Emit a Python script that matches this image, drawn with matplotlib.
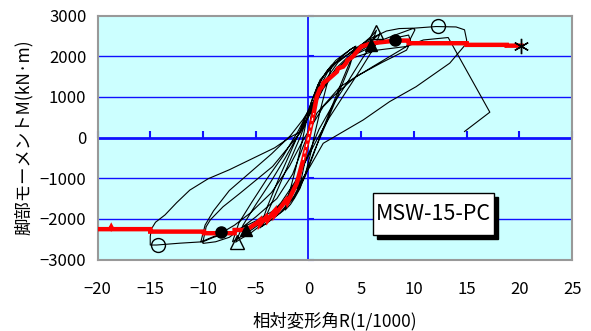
import matplotlib
matplotlib.use("Agg")
import matplotlib.pyplot as plt
from matplotlib.patches import Rectangle

plt.rcParams['font.family'] = ['Noto Sans CJK JP', 'DejaVu Sans']

# Axis ranges and ticks
x_ticks = [-20, -15, -10, -5, 0, 5, 10, 15, 20, 25]
y_ticks = [-3000, -2000, -1000, 0, 1000, 2000, 3000]

# Measured hysteresis record: drift angle R (1/1000) and base moment M (kN·m)
loop_R = [0, 0.3, 0.6, 0.9, 1.0, 0.75, 0.4, 0.1, -0.3, -0.7, -1.0, -0.75, -0.4, -0.1, 0.3, 0.7,
          1.3, 1.7, 2.2, 1.8, 1.2, 0.6, 0.2, -0.3, -0.8, -1.3, -1.7, -2.2, -1.8, -1.2, -0.6, -0.2, 0.3, 0.9, 1.8, 2.6,
          3.2, 4.0, 4.4, 4.0, 3.2, 2.2, 1.2, 0.5, -0.3, -1.3, -2.4, -3.5, -4.4,
          -3.8, -2.8, -1.8, -0.8, 0.0, 0.8, 1.8, 3.0, 4.0, 4.5,
          3.9, 2.8, 1.6, 0.6, -0.3, -1.4, -2.7, -4.0, -4.6,
          -3.9, -2.8, -1.6, -0.5, 0.4, 1.1, 2.5, 4.9, 6.1, 6.45,
          6.0, 5.0, 3.8, 2.3, 1.0, 0.0, -0.9, -2.0, -3.2, -4.5, -5.5, -6.5, -6.9,
          -6.2, -5.0, -3.6, -2.2, -0.9, 0.3, 1.3, 2.6, 4.0, 5.3, 6.3, 6.8,
          6.2, 5.0, 3.5, 2.0, 0.8, -0.3, -1.3, -2.6, -4.0, -5.3, -6.5, -7.2,
          -6.6, -5.4, -3.9, -2.4, -1.0, 0.2, 1.3, 2.8, 4.5, 6.0, 7.4, 8.6, 9.9, 10.1,
          9.3, 6.1, 3.0, 0.8, -0.5, -1.5, -3.0, -5.0, -6.5, -7.5, -8.8, -10.0, -10.0,
          -9.7, -9.3, -8.1, -6.5, -3.4, -0.8, 0.4, 1.4, 2.8, 4.5, 6.5, 8.2, 9.5, 9.7,
          9.3, 7.0, 4.5, 2.5, 1.4, -0.5, -1.8, -3.5, -5.5, -7.0, -8.5, -9.8, -10.2,
          -9.8, -9.0, -7.5, -5.5, -3.5, -1.7, -0.5, 0.7, 2.0, 4.0, 6.0, 8.0, 10.0, 12.1, 14.0, 14.8, 15.0,
          15.0, 13.4, 10.2, 7.7, 5.2, 1.4, 0.15, -1.0, -3.0, -5.0, -7.0, -9.0, -10.0, -12.2, -14.4, -15.0, -15.0,
          -14.9, -14.5, -13.6, -12.5, -11.25, -9.5, -7.5, -5.5, -3.2, -1.8, -0.8, 0.45, 1.5, 3.6, 6.5, 9.3, 10.9, 13.25,
          17.2, 14.8]
loop_M = [0, 500, 950, 1250, 1300, 950, 450, 0, -550, -1050, -1300, -900, -400, 50, 600, 1100,
          1450, 1620, 1780, 1350, 750, 100, -400, -900, -1250, -1480, -1640, -1780, -1350, -750, -100, 400, 900, 1300, 1650, 1900,
          2020, 2170, 2230, 1900, 1400, 750, 100, -400, -950, -1450, -1800, -2020, -2180,
          -1800, -1200, -600, 0, 550, 1100, 1600, 1950, 2170, 2250,
          1750, 1050, 300, -300, -900, -1450, -1850, -2100, -2220,
          -1700, -1000, -300, 350, 950, 1420, 1830, 2250, 2520, 2640,
          2300, 1900, 1400, 800, 200, -400, -950, -1450, -1850, -2150, -2350, -2500, -2570,
          -2150, -1650, -1100, -500, 100, 700, 1200, 1700, 2050, 2300, 2450, 2560,
          2200, 1700, 1100, 500, -50, -600, -1100, -1600, -2000, -2250, -2450, -2560,
          -2100, -1600, -1000, -450, 150, 750, 1300, 1850, 2200, 2450, 2620, 2680, 2690, 2650,
          2240, 1745, 1250, 600, -220, -900, -1500, -1950, -2250, -2450, -2560, -2600, -2560,
          -2190, -2020, -1700, -1370, -710, 110, 700, 1200, 1700, 2050, 2300, 2450, 2520, 2350,
          2150, 1850, 1500, 1050, 760, -60, -700, -1350, -1850, -2150, -2380, -2520, -2560,
          -2150, -1800, -1300, -850, -400, 50, 450, 950, 1500, 2000, 2300, 2500, 2690, 2730, 2720, 2650, 2400,
          2320, 1830, 1250, 885, 435, -140, -710, -1200, -1750, -2050, -2300, -2450, -2560, -2595, -2640, -2640, -2430,
          -2250, -2080, -1900, -1600, -1290, -1010, -790, -540, -250, 0, 140, 755, 1300, 1910, 2150, 2240, 2400, 2460,
          625, 150]

# Skeleton (envelope) curve
skel_R = [-20, -18.8, -18.7, -18.6, -15.0, -15.0, -9.9, -9.9, -7.0, -7.0, -5.9,
          -4.9, -4.6, -4.6, -4.0, -3.9, -3.4, -3.2, -3.2, -2.6, -2.1, -2.0, -1.1, -0.5, 0.0,
          0.5, 0.8, 1.1, 1.3, 1.4, 1.8, 2.0, 2.35, 2.7, 2.8, 3.3, 3.6, 3.7, 4.2, 5.0, 6.0, 8.3,
          9.45, 9.5, 15.0, 15.0, 18.8, 18.8, 20.2]
skel_M = [-2250, -2250, -2200, -2250, -2250, -2310, -2310, -2350, -2350, -2270, -2270,
          -2100, -2030, -2130, -1950, -2040, -1860, -1800, -1900, -1700, -1530, -1600, -1120, -550, 0,
          600, 1010, 1200, 1250, 1340, 1420, 1460, 1540, 1620, 1700, 1745, 1840, 1900, 1990, 2235, 2320, 2385,
          2385, 2320, 2320, 2280, 2280, 2260, 2260]

# Characteristic points on the envelope
yield_R, yield_M = [5.9, -5.9], [2280, -2270]
crack_R, crack_M = [6.45, -6.8], [2600, -2555]
peak_R, peak_M = [8.2, -8.3], [2400, -2330]
max_R, max_M = [12.3, -14.3], [2745, -2650]
ult_R, ult_M = [20.2], [2260]

fig = plt.figure(figsize=(5.91, 3.31), dpi=100)
ax = fig.add_axes([0.165, 0.2155, 0.803, 0.7375])
ax.set_facecolor('#CCFFFF')
ax.set_xlim(-20, 25)
ax.set_ylim(-3000, 3000)
ax.set_xticks(x_ticks)
ax.set_yticks(y_ticks)
ax.tick_params(length=0, labelsize=12)
ax.tick_params(axis='x', pad=15)
ax.tick_params(axis='y', pad=8)
for s in ax.spines.values():
    s.set_color('#999999')
    s.set_linewidth(1.5)

for yv in y_ticks[1:-1]:
    if yv != 0:
        ax.axhline(yv, color='#1010FF', lw=1.0, zorder=1)
ax.axhline(0, color='#1010FF', lw=2.0, zorder=1)
ax.axvline(0, color='#1010FF', lw=1.3, zorder=1)
ax.plot(x_ticks, [0] * len(x_ticks), ls='none', marker=2, ms=5, mew=1.5, color='#1010FF', zorder=1, clip_on=False)
ax.plot([0] * len(y_ticks), y_ticks, ls='none', marker=1, ms=4, mew=1.5, color='#1010FF', zorder=1, clip_on=False)

ax.plot(loop_R, loop_M, color='black', lw=0.8, zorder=2)
ax.plot(skel_R, skel_M, color='#FF0000', lw=3.2, zorder=3, solid_joinstyle='miter')
mid = [(r, m) for r, m in zip(skel_R, skel_M) if -900 <= m <= 1000]
ax.plot([p[0] for p in mid], [p[1] for p in mid], color='white', lw=0.8, ls=(0, (3, 3)), zorder=4)

ax.plot(yield_R, yield_M, ls='none', marker='^', ms=8, color='black', zorder=5)
ax.plot(crack_R, crack_M, ls='none', marker='^', ms=10, mfc='none', mec='black', mew=1.0, zorder=5)
ax.plot(peak_R, peak_M, ls='none', marker='o', ms=8, color='black', zorder=5)
ax.plot(max_R, max_M, ls='none', marker='o', ms=10, mfc='none', mec='black', mew=1.0, zorder=5)
ax.plot(ult_R, ult_M, ls='none', marker=(6, 2, 0), ms=11, mew=1.0, color='black', zorder=5)

# Specimen label with drop shadow
ax.add_patch(Rectangle((0.5885, 0.085), 0.256, 0.171, transform=ax.transAxes,
                       facecolor='black', edgecolor='black', zorder=6))
ax.add_patch(Rectangle((0.580, 0.101), 0.256, 0.171, transform=ax.transAxes,
                       facecolor='white', edgecolor='black', lw=1.0, zorder=7))
ax.text(0.708, 0.187, 'MSW-15-PC', transform=ax.transAxes, ha='center', va='center',
        fontsize=15.5, zorder=8)

ax.set_xlabel('相対変形角R(1/1000)', fontsize=12.5, labelpad=10)
ax.set_ylabel('脚部モーメントM(kN·m)', fontsize=12.5, labelpad=5)

fig.savefig('out.png', dpi=100)
